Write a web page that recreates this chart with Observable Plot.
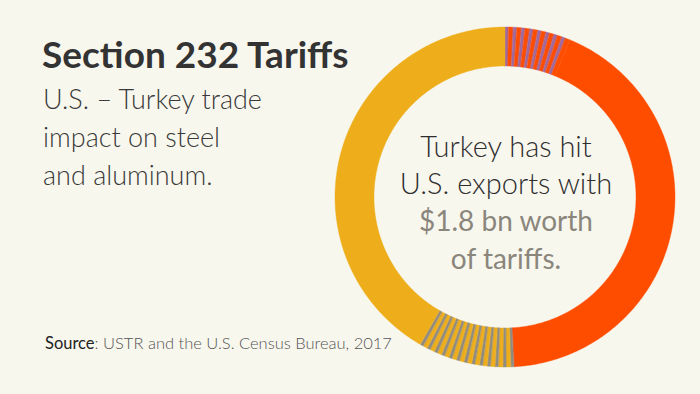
<!DOCTYPE html>
<html>
<head>
<meta charset="utf-8">
<script src="https://cdn.jsdelivr.net/npm/d3@7"></script>
<script src="https://cdn.jsdelivr.net/npm/@observablehq/plot@0.6"></script>
<style>
  html, body { margin: 0; padding: 0; background: #f8f7ee; }
  #wrap { position: relative; width: 700px; height: 394px; overflow: hidden; background: #f8f7ee; font-family: "Lato", "Open Sans", sans-serif; }
  #chart { position: absolute; left: 0; top: 0; }
  .t { position: absolute; white-space: nowrap; }
  #title { left: 42px; top: 31px; font-size: 37px; font-weight: 700; color: #333; letter-spacing: 0px; }
  #sub { left: 43px; top: 80px; font-size: 27px; font-weight: 300; color: #3a3a3a; line-height: 38px; }
  #src { left: 45px; top: 333px; font-size: 16.5px; color: #555; font-weight: 300; }
  #src b { font-weight: 400; color: #222; }
  #center { left: 386px; width: 240px; top: 127px; text-align: center; font-size: 29px; font-weight: 300; line-height: 37px; color: #2e2e2e; }
  #center .g { color: #8a867c; font-weight: 400; font-size: 28px; }
</style>
</head>
<body>
<div id="wrap">
  <div id="chart"></div>
  <div class="t" id="title">Section 232 Tariffs</div>
  <div class="t" id="sub">U.S. – Turkey trade<br>impact on steel<br>and aluminum.</div>
  <div class="t" id="src"><b>Source</b>: USTR and the U.S. Census Bureau, 2017</div>
  <div class="t" id="center">Turkey has hit<br>U.S. exports with<br><span class="g">$1.8 bn worth<br>of tariffs.</span></div>
</div>
<script>
// Slice values in degrees of the ring, clockwise from 12 o'clock
const sliceColors = {red: "#ff4d00", purple: "#9f6aa1", yellow: "#eeae1b", gray: "#8f8b82"};
const topStripeColors = ["purple","red","purple","red","purple","red","purple","red","purple","red","purple","red","purple","red","purple","red"];
const topStripeValues = [1.2,1.6,1.2,1.6,1.2,1.6,1.2,1.6,1.2,1.6,1.2,1.6,1.2,1.6,1.2,1.6];
const redValue = 154.6;
const bottomStripeColors = ["gray","yellow","gray","yellow","gray","yellow","gray","yellow","gray","yellow","gray","yellow","gray","yellow","gray","yellow","gray","yellow","gray","yellow","gray","yellow","gray","yellow","gray"];
const bottomStripeValues = [1.1,1.55,1.1,1.55,1.1,1.55,1.1,1.55,1.1,1.55,1.1,1.55,1.1,1.55,1.1,1.55,1.1,1.55,1.1,1.55,1.1,1.55,1.1,1.55,1.1];
const yellowValue = 150.1;

const names = [...topStripeColors, "red", ...bottomStripeColors, "yellow"];
const values = [...topStripeValues, redValue, ...bottomStripeValues, yellowValue];
const total = d3.sum(values);

const R_OUT = 170, R_IN = 131;
const cx = 504.5, cy = 196.5, W = 700, H = 394;

let acc = 0;
const pts = [];
names.forEach((n, i) => {
  const a0 = acc / total * 2 * Math.PI;
  acc += values[i];
  const a1 = acc / total * 2 * Math.PI;
  const steps = Math.max(2, Math.ceil((a1 - a0) / (Math.PI / 360)));
  const color = sliceColors[n];
  for (let k = 0; k <= steps; k++) {
    const a = a0 + (a1 - a0) * k / steps;
    pts.push({id: i, color, x: R_OUT * Math.sin(a), y: R_OUT * Math.cos(a)});
  }
  for (let k = steps; k >= 0; k--) {
    const a = a0 + (a1 - a0) * k / steps;
    pts.push({id: i, color, x: R_IN * Math.sin(a), y: R_IN * Math.cos(a)});
  }
});

const chart = Plot.plot({
  width: W, height: H,
  margin: 0,
  style: {background: "transparent"},
  x: {domain: [-cx, W - cx], axis: null},
  y: {domain: [cy - H, cy], axis: null},
  color: {type: "identity"},
  marks: [
    Plot.line(pts, {x: "x", y: "y", z: "id", fill: "color", stroke: "color", strokeWidth: 0.4, curve: "linear-closed"})
  ]
});
document.getElementById("chart").appendChild(chart);
</script>
</body>
</html>
